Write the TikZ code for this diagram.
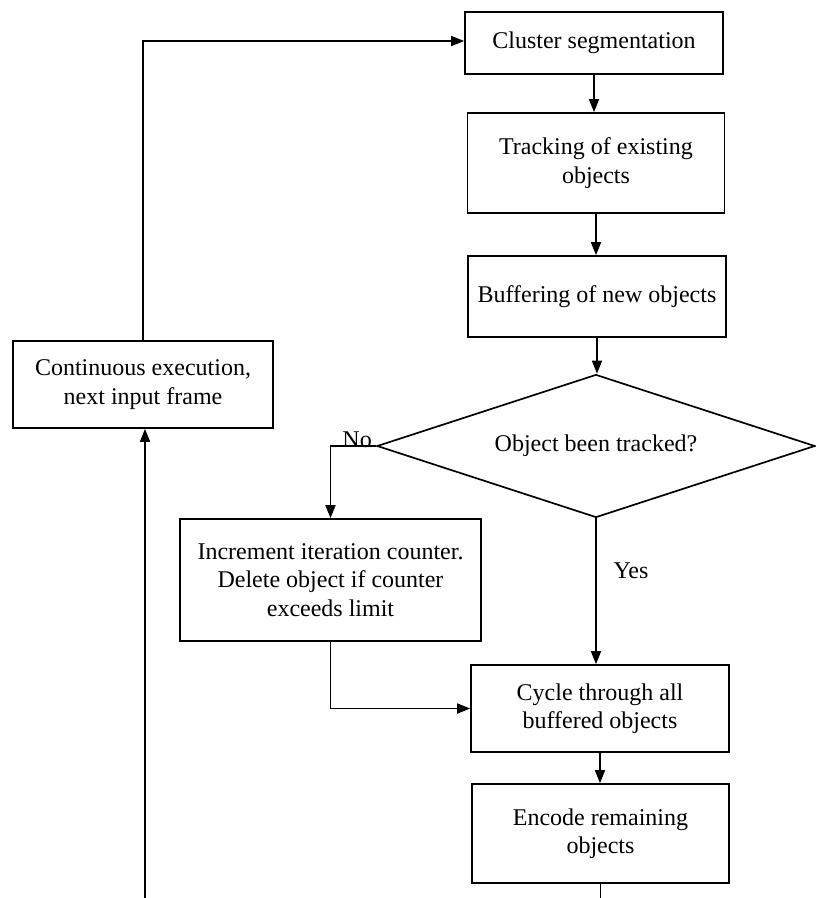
\documentclass[tikz,border=0pt]{standalone}
\usepackage{fontspec}
\setmainfont{Liberation Serif}
\usetikzlibrary{shapes.geometric,arrows.meta}
\newcommand\flowfont{\fontsize{24}{28.5}\selectfont}
\begin{document}
\begin{tikzpicture}[x=1pt,y=-1pt,
  box/.style={draw,line width=1.7pt,align=center,inner sep=0pt,font=\flowfont},
  decision/.style={draw,diamond,line width=1.7pt,inner sep=0pt,aspect=3,font=\flowfont},
  flow/.style={line width=1.7pt,-{Triangle[length=13pt,width=10pt]}},
  plain/.style={line width=1.7pt},
  lbl/.style={font=\flowfont,inner sep=0pt}]
\useasboundingbox (0,0) rectangle (815,898);

% processing steps
\node[box,minimum width=258pt,minimum height=62pt]  (cluster) at (594,43)    {Cluster segmentation};
\node[box,minimum width=257pt,minimum height=100pt] (track)   at (596,163)   {Tracking of existing\\objects};
\node[box,minimum width=258pt,minimum height=81pt]  (buffer)  at (597,296.5) {Buffering of new objects};
\node[decision,minimum width=438pt,minimum height=143pt] (dec) at (596,446) {Object been tracked?};
\node[box,minimum width=301pt,minimum height=122pt] (inc)     at (330.5,580) {Increment iteration counter.\\Delete object if counter\\exceeds limit};
\node[box,minimum width=258pt,minimum height=87pt]  (cycle)   at (600,708.5) {Cycle through all\\buffered objects};
\node[box,minimum width=257pt,minimum height=99pt]  (encode)  at (600.5,833.5) {Encode remaining\\objects};
\node[box,minimum width=260pt,minimum height=87pt]  (cont)    at (143,384.5) {Continuous execution,\\next input frame};

% branch labels
\node[lbl,anchor=south east] (no)  at (372,448) {No};
\node[lbl] (yes) at (631,571) {Yes};

% loose ends of the return loop at the lower edge
\coordinate (endR) at (602,898);
\coordinate (endL) at (145,898);

% connectors
\draw[flow] (cluster.south) -- (cluster.south |- track.north);
\draw[flow] (track.south) -- (track.south |- buffer.north);
\draw[flow] (buffer.south) -- (buffer.south |- dec.north);
\draw[flow] (dec.west) -| (inc.north);
\draw[flow] (dec.south) -- (dec.south |- cycle.north);
\draw[flow] (inc.south) |- (cycle.west);
\draw[flow] (cycle.south) -- (cycle.south |- encode.north);
\draw[plain] (encode.south) -- (encode.south |- endR);
\draw[flow] (endL) -- (endL |- cont.south);
\draw[flow] (cont.north) |- ([yshift=2pt]cluster.west);
\end{tikzpicture}
\end{document}
